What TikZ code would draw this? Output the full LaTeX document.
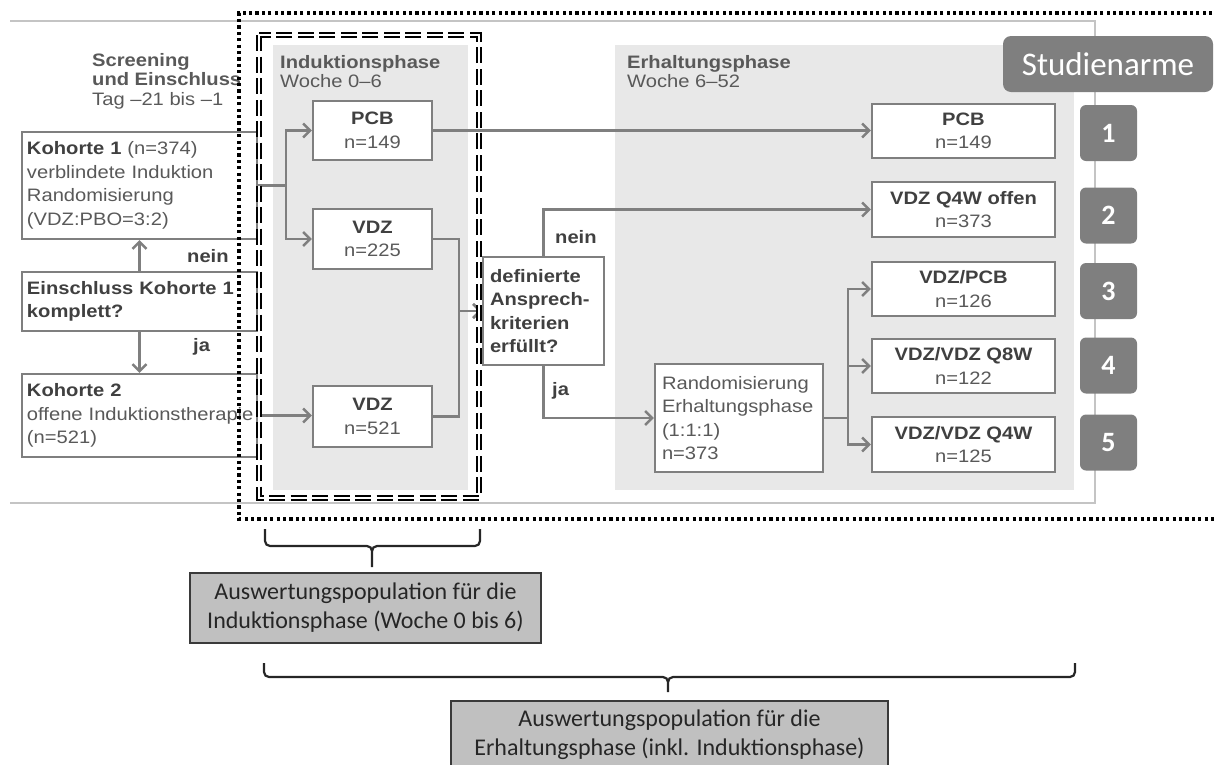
\documentclass[tikz,border=0pt]{standalone}
\usepackage{fontspec}
\setmainfont[FakeStretch=1.12]{Liberation Sans}
\newfontfamily\calib{Carlito}
\usetikzlibrary{arrows.meta}
\definecolor{lg}{HTML}{7F7F7F}
\definecolor{tx}{HTML}{404040}
\definecolor{tr}{HTML}{595959}
\definecolor{pane}{HTML}{E8E8E8}
\definecolor{framec}{HTML}{C4C4C4}
\definecolor{bfill}{HTML}{C0C0C0}
\definecolor{bdark}{HTML}{3A3A3A}
\begin{document}
\begin{tikzpicture}[x=1pt,y=-1pt,
  boxfont/.style={font=\fontsize{18}{23.5}\selectfont},
  box/.style={draw=lg, line width=2.4pt, fill=white, inner sep=0pt, boxfont, text=tx, align=center, minimum width=#1},
  box/.default=119,
  lbox/.style={draw=lg, line width=2.4pt, fill=white, inner ysep=0pt, inner xsep=#1, boxfont, text=tx, align=left},
  lbox/.default=5pt,
  conn/.style={draw=lg, line width=2.4pt, -{Straight Barb[length=7pt,width=14pt]}},
  hdr/.style={font=\fontsize{18}{19.5}\selectfont, text=tr, align=left, inner sep=0pt},
  lab/.style={font=\bfseries\fontsize{18}{20}\selectfont, text=tx, inner sep=0pt},
  numbox/.style={fill=lg, rounded corners=6pt, minimum width=57, minimum height=56, inner sep=0pt, text=white, font=\calib\bfseries\fontsize{28}{30}\selectfont},
  bbox/.style={draw=bdark, line width=1.6pt, fill=bfill, inner sep=0pt, text=black!85, align=center, font=\calib\fontsize{24}{29}\selectfont},
  brace/.style={draw=black!85, line width=2.2pt},
  dotframe/.style={draw=black, line width=3.4pt, dash pattern=on 3.2pt off 3.2pt},
  dblframe/.style={draw=black, line width=2.2pt, double=white, double distance=2.4pt, dash pattern=on 16pt off 5.5pt}
]
\useasboundingbox (0,0) rectangle (1215,764);
% thin outer frame
\draw[framec, line width=1.6pt] (10,21) -- (1095,21) -- (1095,503) -- (10,503);
% grey panes
\fill[pane] (273,45) rectangle (468,490);
\fill[pane] (615,45) rectangle (1074,490);
% headers
\node[hdr, anchor=north west] (scr) at (92,53) {\textbf{Screening}\\\textbf{und Einschluss}\\Tag –21 bis –1};
\node[hdr, anchor=north west] (ind) at (280,55) {\textbf{Induktionsphase}\\Woche 0–6};
\node[hdr, anchor=north west] (erh) at (627,55) {\textbf{Erhaltungsphase}\\Woche 6–52};
% left boxes
\node[lbox, text width=225pt, minimum height=107] (k1) at (139.5,185.5)
  {\textbf{Kohorte 1} {\color{tr}(n=374)}\\{\color{tr}verblindete Induktion}\\{\color{tr}Randomisierung}\\{\color{tr}(VDZ:PBO=3:2)}};
\node[lbox, text width=225pt, minimum height=59] (ein) at (139.5,301.5)
  {\textbf{Einschluss Kohorte 1}\\\textbf{komplett?}};
\node[lbox, text width=225pt, minimum height=83] (k2) at (139.5,415.5)
  {\textbf{Kohorte 2}\\{\color{tr}\mbox{offene Induktionstherapie}}\\{\color{tr}(n=521)}};
% induction boxes
\node[box, minimum height=59] (pcb1) at (372.5,130.5) {\textbf{PCB}\\{\color{tr}n=149}};
\node[box, minimum height=60] (vdz1) at (372.5,239) {\textbf{VDZ}\\{\color{tr}n=225}};
\node[box, minimum height=61] (vdz3) at (372.5,416.5) {\textbf{VDZ}\\{\color{tr}n=521}};
% decision
\node[lbox=7pt, text width=107pt, minimum height=108] (def) at (543.5,311)
  {\textbf{definierte}\\\textbf{Ansprech-}\\\textbf{kriterien}\\\textbf{erfüllt?}};
\node[lbox=7pt, text width=154pt, minimum height=108] (rand) at (739,418)
  {{\color{tr}Randomisierung}\\{\color{tr}\mbox{Erhaltungsphase}}\\{\color{tr}(1:1:1)}\\{\color{tr}n=373}};
% right boxes
\node[box=183, minimum height=54] (pcb2) at (963.5,131) {\textbf{PCB}\\{\color{tr}n=149}};
\node[box=183, minimum height=55] (q4o) at (963.5,209.5) {\textbf{VDZ Q4W offen}\\{\color{tr}n=373}};
\node[box=183, minimum height=54] (vp) at (963.5,289) {\textbf{VDZ/PCB}\\{\color{tr}n=126}};
\node[box=183, minimum height=54] (vq8) at (963.5,366) {\textbf{VDZ/VDZ Q8W}\\{\color{tr}n=122}};
\node[box=183, minimum height=55] (vq4) at (963.5,444.5) {\textbf{VDZ/VDZ Q4W}\\{\color{tr}n=125}};
% connectors
\draw[conn] (ein.north) -- (k1.south);
\draw[conn] (ein.south) -- (k2.north);
\draw[conn] (k1.east) -- ++(28,0) |- (pcb1.west);
\draw[conn] (k1.east) -- ++(28,0) |- (vdz1.west);
\draw[conn] (k2.east) -- (k2.east -| vdz3.west);
\draw[conn] (pcb1.east) -- (pcb1.east -| pcb2.west);
\draw[conn] (vdz1.east) -- ++(26,0) |- (def.west);
\draw[conn] (vdz3.east) -- ++(26,0) |- (def.west);
\draw[conn] (def.north) |- (q4o.west);
\draw[conn] (def.south) |- (rand.west);
\draw[conn] (rand.east) -- ++(24,0) |- (vp.west);
\draw[conn] (rand.east) -- ++(24,0) |- (vq8.west);
\draw[conn] (rand.east) -- ++(24,0) |- (vq4.west);
% labels
\node[lab, anchor=base west] (nein1) at (187,262) {nein};
\node[lab, anchor=base west] (ja1) at (193,351) {ja};
\node[lab, anchor=base west] (nein2) at (555,243) {nein};
\node[lab, anchor=base west] (ja2) at (552,395) {ja};
% frames
\draw[dblframe] (259,35) rectangle (479,498);
\draw[dotframe] (1225,13) -- (239,13) -- (239,519) -- (1225,519);
% study arms
\node[fill=lg, rounded corners=8pt, minimum width=210, minimum height=56, inner sep=0pt, text=white, font=\calib\fontsize{33}{36}\selectfont] (arms) at (1108,64) {Studienarme};
\node[numbox] (n1) at (1108.5,133) {1};
\node[numbox] (n2) at (1108.5,215.5) {2};
\node[numbox] (n3) at (1108.5,291) {3};
\node[numbox] (n4) at (1108.5,365.5) {4};
\node[numbox] (n5) at (1108.5,442.5) {5};
% braces
\coordinate (b1l) at (265,529);
\coordinate (b1r) at (480,529);
\coordinate (b1t) at (372,567);
\draw[brace] (b1l) -- (265,541) to[out=-90,in=180] (270,546) -- (367,546) to[out=0,in=90] (b1t|-0,551) -- (b1t);
\draw[brace] (b1r) -- (480,541) to[out=-90,in=0] (475,546) -- (377,546) to[out=180,in=90] (b1t|-0,551);
\coordinate (b2l) at (264,663);
\coordinate (b2r) at (1075,663);
\coordinate (b2t) at (668,692);
\draw[brace] (b2l) -- (264,672) to[out=-90,in=180] (269,677) -- (663,677) to[out=0,in=90] (b2t|-0,682) -- (b2t);
\draw[brace] (b2r) -- (1075,672) to[out=-90,in=0] (1070,677) -- (673,677) to[out=180,in=90] (b2t|-0,682);
% evaluation boxes
\node[bbox, minimum width=351, minimum height=70] (ev1) at (365.5,608) {Auswertungspopulation für die\\Induktionsphase (Woche 0 bis 6)};
\node[bbox, minimum width=437, minimum height=68] (ev2) at (669.5,735) {Auswertungspopulation für die\\Erhaltungsphase (inkl. Induktionsphase)};
\end{tikzpicture}
\end{document}
